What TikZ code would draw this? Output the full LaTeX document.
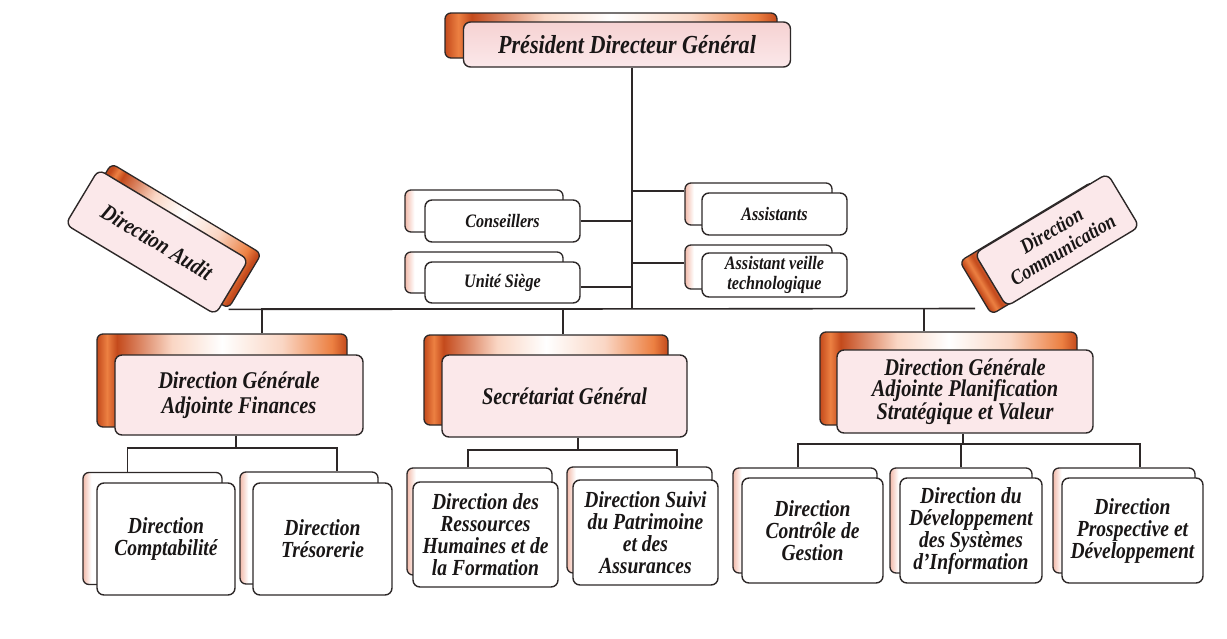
\documentclass[tikz,border=0pt]{standalone}
\usepackage{fontspec}
\setmainfont{Liberation Serif}[FakeStretch=0.85]
\usetikzlibrary{positioning,calc,backgrounds}
\definecolor{orgline}{RGB}{45,40,40}
\definecolor{orgtext}{RGB}{25,22,22}
\definecolor{orgdark}{RGB}{196,74,28}
\definecolor{orgmid}{RGB}{236,128,66}
\definecolor{orglight}{RGB}{250,214,196}
\definecolor{orgpink}{RGB}{251,232,234}
\definecolor{orgpinktop}{RGB}{246,210,210}
\definecolor{orgedge}{RGB}{242,186,170}
\pgfdeclarehorizontalshading{orangetube}{100bp}{color(0bp)=(orgdark); color(25bp)=(orgdark);
  color(27bp)=(orgmid); color(29bp)=(orgdark); color(40bp)=(orglight); color(50bp)=(white);
  color(62bp)=(orglight); color(72bp)=(orgmid); color(75bp)=(orgdark); color(100bp)=(orgdark)}
\pgfdeclarehorizontalshading{pinkedge}{100bp}{color(0bp)=(orgedge); color(25bp)=(orgedge);
  color(28bp)=(white); color(100bp)=(white)}
\tikzset{
  obox/.style={draw=orgline, line width=1.3pt, rounded corners=6pt, shading=orangetube, inner sep=0pt},
  wbox/.style={draw=orgline, line width=1.3pt, rounded corners=6pt, shading=pinkedge, inner sep=0pt},
  pbox/.style={draw=orgline, line width=1.4pt, rounded corners=7pt, fill=#1, text=orgtext,
               align=center, inner sep=2pt},
  fbig/.style={font=\fontsize{26}{28}\selectfont\bfseries\itshape},
  fmid/.style={font=\fontsize{24}{25}\selectfont\bfseries\itshape},
  flow/.style={font=\fontsize{23}{22}\selectfont\bfseries\itshape},
  fsmall/.style={font=\fontsize{19}{20}\selectfont\bfseries\itshape},
  link/.style={draw=orgline, line width=1.6pt},
}
\begin{document}
\begin{tikzpicture}[x=1pt, y=-1pt]
\useasboundingbox (0,0) rectangle (1227,638);

% top
\node[obox, minimum width=332pt, minimum height=45pt] (pdgB) at (611,35.5) {};
\node[pbox=orgpink, top color=orgpinktop, bottom color=orgpink, minimum width=327pt,
      minimum height=45pt, fbig] (pdg) at (627,44.5) {Président Directeur Général};

% staff around the trunk
\node[wbox, minimum width=158pt, minimum height=42pt] (consB) at (484,211) {};
\node[pbox=white, minimum width=155pt, minimum height=42pt, fsmall] (cons) at (502.5,221) {Conseillers};
\node[wbox, minimum width=158pt, minimum height=41pt] (siegeB) at (484,272.5) {};
\node[pbox=white, minimum width=155pt, minimum height=41pt, fsmall] (siege) at (502.5,282.5) {Unité Siège};
\node[wbox, minimum width=147pt, minimum height=42pt] (assB) at (758.5,204) {};
\node[pbox=white, minimum width=145pt, minimum height=42pt, fsmall] (ass) at (774.5,214) {Assistants};
\node[wbox, minimum width=147pt, minimum height=44pt] (veilleB) at (758.5,267) {};
\node[pbox=white, minimum width=145pt, minimum height=44pt,
      font=\fontsize{19}{20}\selectfont\bfseries\itshape] (veille) at (774.5,275)
      {Assistant veille\\technologique};

% rotated directions
\node[obox, minimum width=175pt, minimum height=64pt, rotate=-31, shading angle=-31] (auditB) at (170,236) {};
\node[pbox=orgpink, minimum width=175pt, minimum height=64pt, rotate=-31,
      font=\fontsize{23}{24}\selectfont\bfseries\itshape] (audit) at (157,242) {Direction Audit};
\node[obox, minimum width=155pt, minimum height=62pt, rotate=31, shading angle=31] (commB) at (1042,248) {};
\node[pbox=orgpink, minimum width=155pt, minimum height=62pt, rotate=31,
      font=\fontsize{21}{22}\selectfont\bfseries\itshape] (comm) at (1057,240) {Direction\\Communication};

% second level
\node[obox, minimum width=250pt, minimum height=93pt] (finB) at (222,380.5) {};
\node[pbox=orgpink, minimum width=248pt, minimum height=80pt, fmid] (fin) at (239,395)
      {Direction Générale\\Adjointe Finances};
\node[obox, minimum width=244pt, minimum height=90pt] (secrB) at (546,380) {};
\node[pbox=orgpink, minimum width=245pt, minimum height=82pt, fmid] (secr) at (564.5,396)
      {Secrétariat Général};
\node[obox, minimum width=257pt, minimum height=93pt] (planB) at (948.5,378.5) {};
\node[pbox=orgpink, minimum width=256pt, minimum height=83pt,
      font=\fontsize{24}{21.5}\selectfont\bfseries\itshape] (plan) at (965,391.5)
      {Direction Générale\\Adjointe Planification\\Stratégique et Valeur};

% third level
\node[wbox, minimum width=139pt, minimum height=112pt] (compB) at (152.5,528.5) {};
\node[pbox=white, minimum width=138pt, minimum height=112pt, flow] (comp) at (166,539)
      {Direction\\Comptabilité};
\node[wbox, minimum width=138pt, minimum height=112pt] (tresB) at (309,528) {};
\node[pbox=white, minimum width=139pt, minimum height=112pt, flow] (tres) at (322.5,539)
      {Direction\\Trésorerie};
\node[wbox, minimum width=145pt, minimum height=107pt] (rhB) at (479.5,521.5) {};
\node[pbox=white, minimum width=145pt, minimum height=105pt, flow] (rh) at (485.5,534.5)
      {Direction des\\Ressources\\Humaines et de\\la Formation};
\node[wbox, minimum width=145pt, minimum height=106pt] (patB) at (639.5,520) {};
\node[pbox=white, minimum width=145pt, minimum height=105pt, flow] (pat) at (645.5,532.5)
      {Direction Suivi\\du Patrimoine\\et des\\Assurances};
\node[wbox, minimum width=144pt, minimum height=105pt] (dcgB) at (805,520.5) {};
\node[pbox=white, minimum width=141pt, minimum height=105pt, flow] (dcg) at (812.5,530.5)
      {Direction\\Contrôle de\\Gestion};
\node[wbox, minimum width=142pt, minimum height=105pt] (dsiB) at (961,520.5) {};
\node[pbox=white, minimum width=142pt, minimum height=105pt, flow] (dsi) at (971,530.5)
      {Direction du\\Développement\\des Systèmes\\d’Information};
\node[wbox, minimum width=142pt, minimum height=105pt] (dpdB) at (1124,520.5) {};
\node[pbox=white, minimum width=141pt, minimum height=105pt, flow] (dpd) at (1132.5,530.5)
      {Direction\\Prospective et\\Développement};

% connectors
\coordinate (bus) at (632,308.5);
\coordinate (finbus) at (236,448);
\coordinate (secrbus) at (578,450);
\coordinate (planbus) at (963,444);
\begin{scope}[on background layer]
\draw[link] (bus |- pdg.south) -- (bus);
\draw[link] (auditB.south east) -- (commB.west |- bus);
\draw[link] (cons.east) -- (cons.east -| bus);
\draw[link] ([yshift=-4.5pt]siege.east) -- ([yshift=-4.5pt]siege.east -| bus);
\draw[link] (bus |- assB.170) -- (assB.170);
\draw[link] (bus |- veilleB.177) -- (veilleB.177);
\draw[link] ([xshift=40pt]finB.north) |- (bus);
\draw[link] ([xshift=17pt]secrB.north) |- (bus);
\draw[link] ([xshift=-24.5pt]planB.north) |- (bus);
\draw[link] (finbus |- fin.south) -- (finbus);
\draw[link] ([xshift=-25pt]compB.north) |- (finbus) -| ([xshift=28pt]tresB.north);
\draw[link] (secrbus |- secr.south) -- (secrbus);
\draw[link] ([xshift=-11.5pt]rhB.north) |- (secrbus) -| ([xshift=37.5pt]patB.north);
\draw[link] (planbus |- plan.south) -- (planbus);
\draw[link] ([xshift=-7pt]dcgB.north) |- (planbus) -| ([xshift=16pt]dpdB.north);
\draw[link] (dsiB.north) -- (dsiB.north |- planbus);
\end{scope}

\end{tikzpicture}
\end{document}
